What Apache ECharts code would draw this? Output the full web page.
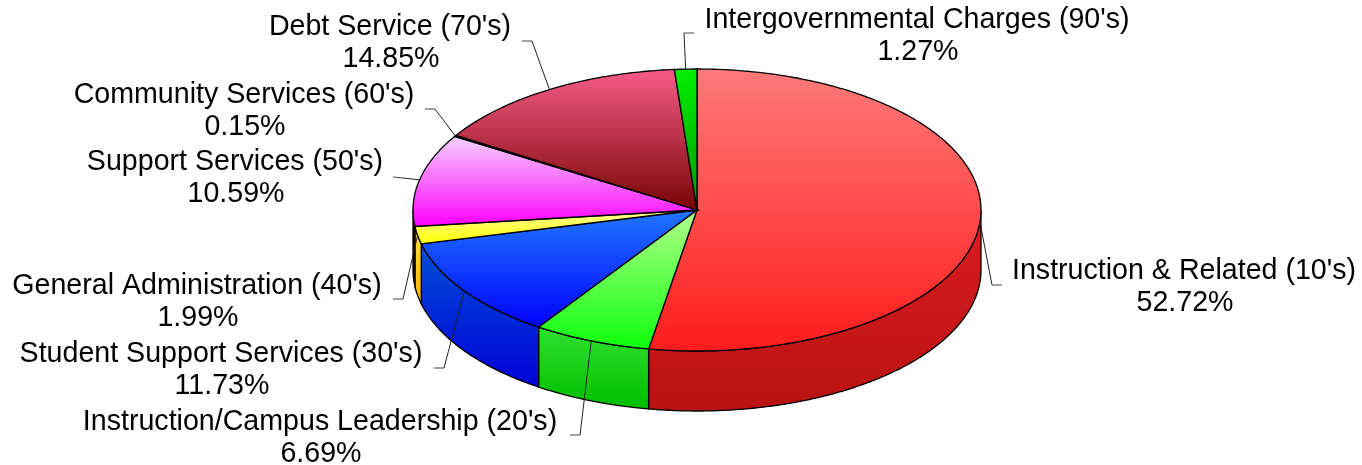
<!DOCTYPE html>
<html>
<head>
<meta charset="utf-8">
<style>
  html, body { margin: 0; padding: 0; background: #fff; }
  #chart { width: 1362px; height: 465px; }
</style>
<script src="https://cdn.jsdelivr.net/npm/echarts@6/dist/echarts.min.js"></script>
</head>
<body>
<div id="chart"></div>
<script>
const categories = [
  "Instruction & Related (10's)",
  "Instruction/Campus Leadership (20's)",
  "Student Support Services (30's)",
  "General Administration (40's)",
  "Support Services (50's)",
  "Community Services (60's)",
  "Debt Service (70's)",
  "Intergovernmental Charges (90's)",
]
const shares = [52.72, 6.69, 11.73, 1.99, 10.59, 0.15, 14.85, 1.27]

// top face gradient [from, to], wall gradient [from, to]
const topColors = [
  ['#ff7a7a', '#ff1c1c'],
  ['#b4ff8c', '#0cff0c'],
  ['#2078ff', '#0000ff'],
  ['#ffff9c', '#ffff00'],
  ['#f4d2ff', '#ff00ff'],
  ['#3a1020', '#200008'],
  ['#f85c88', '#780404'],
  ['#00f000', '#009600'],
]
const wallColors = [
  ['#dc1c20', '#b81212'],
  ['#30e030', '#00be00'],
  ['#0050d8', '#0000d8'],
  ['#ffe040', '#ffb400'],
  ['#301030', '#100010'],
  ['#200010', '#100008'],
  ['#600000', '#400000'],
  ['#008000', '#006000'],
]

// leader line: slanted end + horizontal tail, then the label centre
const leaderBend = [[992, 285], [580, 435], [444, 368], [403, 299], [403, 178], [435, 109], [532, 41], [684, 33]]
const leaderTail = [[1002, 285], [570, 435], [434, 368], [393, 299], [393, 177], [425, 109], [522, 41], [694, 33]]
const labelCentre = [[1184, 287], [320, 438], [221, 370], [197, 302], [235, 178], [244, 111], [390, 43], [917, 36]]

const cx = 697
const cy = 210
const rx = 284
const ry = 141
const depth = 60

let cumulative = []
let total = shares.reduce((a, b) => a + b, 0)
let acc = 0
for (let i = 0; i < shares.length; i++) {
  cumulative.push(acc)
  acc += shares[i]
}
function toAngle(v) {
  return (v / total) * Math.PI * 2
}
function rimPoint(t, dy) {
  return [cx + rx * Math.sin(t), cy - ry * Math.cos(t) + (dy || 0)]
}
function arcPoints(t0, t1, dy) {
  let pts = []
  let n = Math.max(2, Math.ceil(Math.abs(t1 - t0) / 0.01))
  for (let i = 0; i <= n; i++) {
    pts.push(rimPoint(t0 + ((t1 - t0) * i) / n, dy))
  }
  return pts
}
function gradient(pair) {
  return new echarts.graphic.LinearGradient(0, 0, 0, 1, [
    { offset: 0, color: pair[0] },
    { offset: 1, color: pair[1] },
  ])
}
function labelText(text, x, y) {
  return {
    type: 'text',
    x: x,
    y: y,
    style: {
      text: text,
      font: '28.6px "Liberation Sans", Arial, sans-serif',
      fill: '#000',
      align: 'center',
      verticalAlign: 'middle',
    },
  }
}

function renderWall(params, api) {
  let i = params.dataIndex
  let t0 = toAngle(cumulative[i])
  let t1 = t0 + toAngle(api.value(0))
  let a = Math.max(t0, Math.PI / 2)
  let b = Math.min(t1, Math.PI * 1.5)
  if (a >= b) return { type: 'group', children: [] }
  let pts = arcPoints(a, b, 0).concat(arcPoints(b, a, depth))
  return {
    type: 'polygon',
    shape: { points: pts },
    style: { fill: gradient(wallColors[i]), stroke: '#000', lineWidth: 1.3 },
  }
}

function renderTop(params, api) {
  let i = params.dataIndex
  let t0 = toAngle(cumulative[i])
  let t1 = t0 + toAngle(api.value(0))
  let pts = [[cx, cy]].concat(arcPoints(t0, t1, 0))
  return {
    type: 'polygon',
    shape: { points: pts },
    style: { fill: gradient(topColors[i]), stroke: '#000', lineWidth: 1.3 },
  }
}

function renderLabel(params, api) {
  let i = params.dataIndex
  let mid = toAngle(cumulative[i] + api.value(0) / 2)
  return {
    type: 'group',
    children: [
      {
        type: 'polyline',
        shape: { points: [rimPoint(mid), leaderBend[i]] },
        style: { fill: 'none', stroke: '#222', lineWidth: 1 },
      },
      {
        type: 'polyline',
        shape: { points: [leaderBend[i], leaderTail[i]] },
        style: { fill: 'none', stroke: '#444', lineWidth: 1 },
      },
      labelText(categories[i], labelCentre[i][0], labelCentre[i][1] - 16),
      labelText(api.value(0).toFixed(2) + '%', labelCentre[i][0] + 1, labelCentre[i][1] + 16),
    ],
  }
}

const chart = echarts.init(document.getElementById('chart'))
chart.setOption({
  animation: false,
  backgroundColor: '#fff',
  series: [
    { type: 'custom', coordinateSystem: 'none', silent: true, z: 1, data: shares, renderItem: renderWall },
    { type: 'custom', coordinateSystem: 'none', silent: true, z: 2, data: shares, renderItem: renderTop },
    { type: 'custom', coordinateSystem: 'none', silent: true, z: 3, data: shares, renderItem: renderLabel },
  ],
})
</script>
</body>
</html>
